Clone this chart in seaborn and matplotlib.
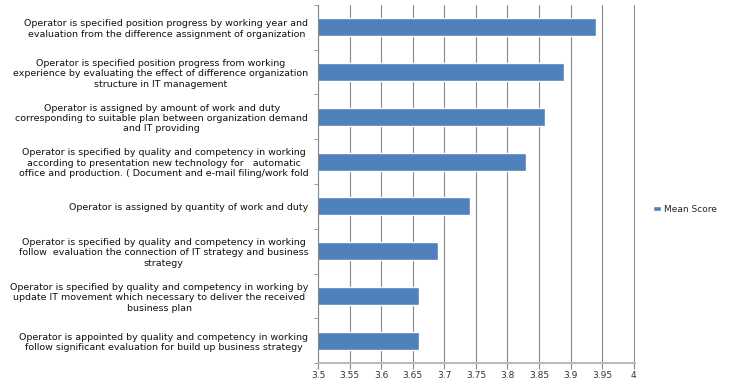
import matplotlib
matplotlib.use("Agg")
import matplotlib.pyplot as plt
import seaborn as sns
import pandas as pd

categories = [
    "Operator is specified position progress by working year and\nevaluation from the difference assignment of organization",
    "Operator is specified position progress from working\nexperience by evaluating the effect of difference organization\nstructure in IT management",
    "Operator is assigned by amount of work and duty\ncorresponding to suitable plan between organization demand\nand IT providing",
    "Operator is specified by quality and competency in working\naccording to presentation new technology for   automatic\noffice and production. ( Document and e-mail filing/work fold",
    "Operator is assigned by quantity of work and duty",
    "Operator is specified by quality and competency in working\nfollow  evaluation the connection of IT strategy and business\nstrategy",
    "Operator is specified by quality and competency in working by\nupdate IT movement which necessary to deliver the received\nbusiness plan",
    "Operator is appointed by quality and competency in working\nfollow significant evaluation for build up business strategy",
]
mean_scores = [3.94, 3.89, 3.86, 3.83, 3.74, 3.69, 3.66, 3.66]
x_ticks = [3.5, 3.55, 3.6, 3.65, 3.7, 3.75, 3.8, 3.85, 3.9, 3.95, 4.0]
x_tick_labels = ["3.5", "3.55", "3.6", "3.65", "3.7", "3.75", "3.8", "3.85", "3.9", "3.95", "4"]
series_name = "Mean Score"

df = pd.DataFrame({"category": categories, "value": mean_scores, "series": series_name})

sns.set_style("white")
plt.rcParams["font.family"] = ["DejaVu Sans"]

fig = plt.figure(figsize=(7.33, 3.81), dpi=100)
ax = fig.add_axes([0.4338, 0.047, 0.4325, 0.940])

sns.barplot(data=df, y="category", x="value", hue="series", orient="h",
            palette=["#4F81BD"], saturation=1, width=0.4, ax=ax, dodge=False)

ax.set_xlim(3.5, 4.002)
ax.set_xticks(x_ticks)
ax.set_xticklabels(x_tick_labels, fontsize=6.5, color="#333333")
ax.set_xlabel("")
ax.set_ylabel("")
ax.set_yticks([i for i in range(len(categories))])
ax.set_yticklabels(categories)
for lbl in ax.get_yticklabels():
    lbl.set_fontsize(6.8)
    lbl.set_multialignment("center")
    lbl.set_color("#111111")
ax.set_axisbelow(True)
ax.grid(axis="x", color="#888888", linewidth=0.8)
ax.grid(axis="y", visible=False)
for s in ["top", "right"]:
    ax.spines[s].set_visible(False)
ax.spines["left"].set_color("#888888")
ax.spines["bottom"].set_color("#bbbbbb")
ax.spines["bottom"].set_linewidth(1.5)
ax.tick_params(axis="x", length=4, color="#888888", pad=1.5, direction="out", bottom=True)
ax.set_yticks([i - 0.5 for i in range(len(categories) + 1)], minor=True)
ax.tick_params(axis="y", which="major", length=0, pad=7)
ax.tick_params(axis="y", which="minor", length=3, color="#888888", left=True)

leg = ax.legend(loc="center left", bbox_to_anchor=(1.03, 0.43), frameon=False,
                fontsize=6.5, handlelength=0.9, handleheight=0.6, handletextpad=0.4)

fig.savefig("out.png", dpi=100, facecolor="white")
